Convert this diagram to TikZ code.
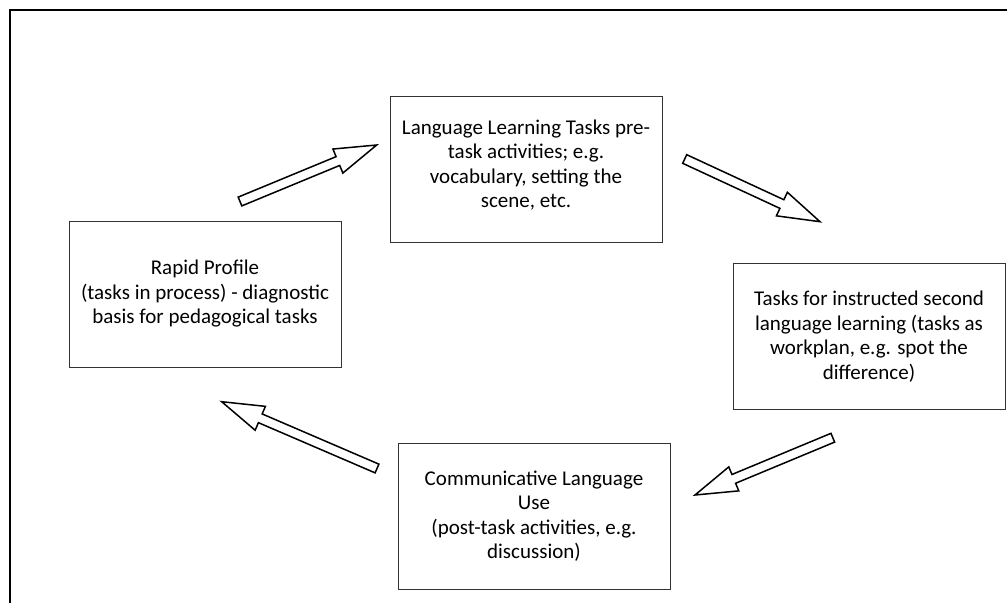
\documentclass[tikz,border=0pt]{standalone}
\usepackage{fontspec}
\setmainfont{Carlito}
\usetikzlibrary{calc}
\tikzset{
  box/.style={draw=black!80, line width=1pt, minimum width=272pt, minimum height=146pt,
    align=center, inner sep=0pt, font=\fontsize{21}{24.5}\selectfont},
  boxtext/.style={align=center, inner sep=0pt, font=\fontsize{21}{24.5}\selectfont},
  blockarrow/.style={draw=black, line width=1.5pt, fill=white, line join=miter},
  frameline/.style={draw=black, line width=2.5pt}
}
\newcommand{\blockarr}[3]{% #1 tail, #2 tip, #3 name
  \coordinate (#3h) at ($(#2)!42pt!(#1)$);
  \draw[blockarrow] ($(#1)!4.75pt!90:(#2)$) -- ($(#3h)!4.75pt!90:(#2)$)
    -- ($(#3h)!13pt!90:(#2)$) -- (#2) -- ($(#3h)!13pt!-90:(#2)$)
    -- ($(#3h)!4.75pt!-90:(#2)$) -- ($(#1)!4.75pt!-90:(#2)$) -- cycle;
}
\begin{document}
\begin{tikzpicture}[x=1pt,y=-1pt]
\useasboundingbox (0,0) rectangle (1007,603);
\coordinate (fb) at (10,603);
\coordinate (fc) at (10,10);
\coordinate (fr) at (1007,10);
\draw[frameline] (fb) -- (fc) -- (fr);

\node[box] (llt) at (526,169) {};
\node[boxtext] (lltt) at (526,165) {Language Learning Tasks pre-\\task activities; e.g.\\vocabulary, setting the\\scene, etc.};
\node[box] (rp) at (205,294) {Rapid Profile\\(tasks in process) - diagnostic\\basis for pedagogical tasks};
\node[box] (tis) at (869,336.5) {Tasks for instructed second\\language learning (tasks as\\workplan, e.g. spot the\\difference)};
\node[box] (clu) at (534,516) {Communicative Language\\Use\\(post-task activities, e.g.\\discussion)};

\coordinate (a1s) at (240,201.5);
\coordinate (a1e) at (376.7,145);
\coordinate (a2s) at (684.7,159);
\coordinate (a2e) at (820,221.7);
\coordinate (a3s) at (832.8,437.7);
\coordinate (a3e) at (695,495);
\coordinate (a4s) at (377,468.5);
\coordinate (a4e) at (221.7,401.7);

\blockarr{a1s}{a1e}{a1}
\blockarr{a2s}{a2e}{a2}
\blockarr{a3s}{a3e}{a3}
\blockarr{a4s}{a4e}{a4}
\end{tikzpicture}
\end{document}
